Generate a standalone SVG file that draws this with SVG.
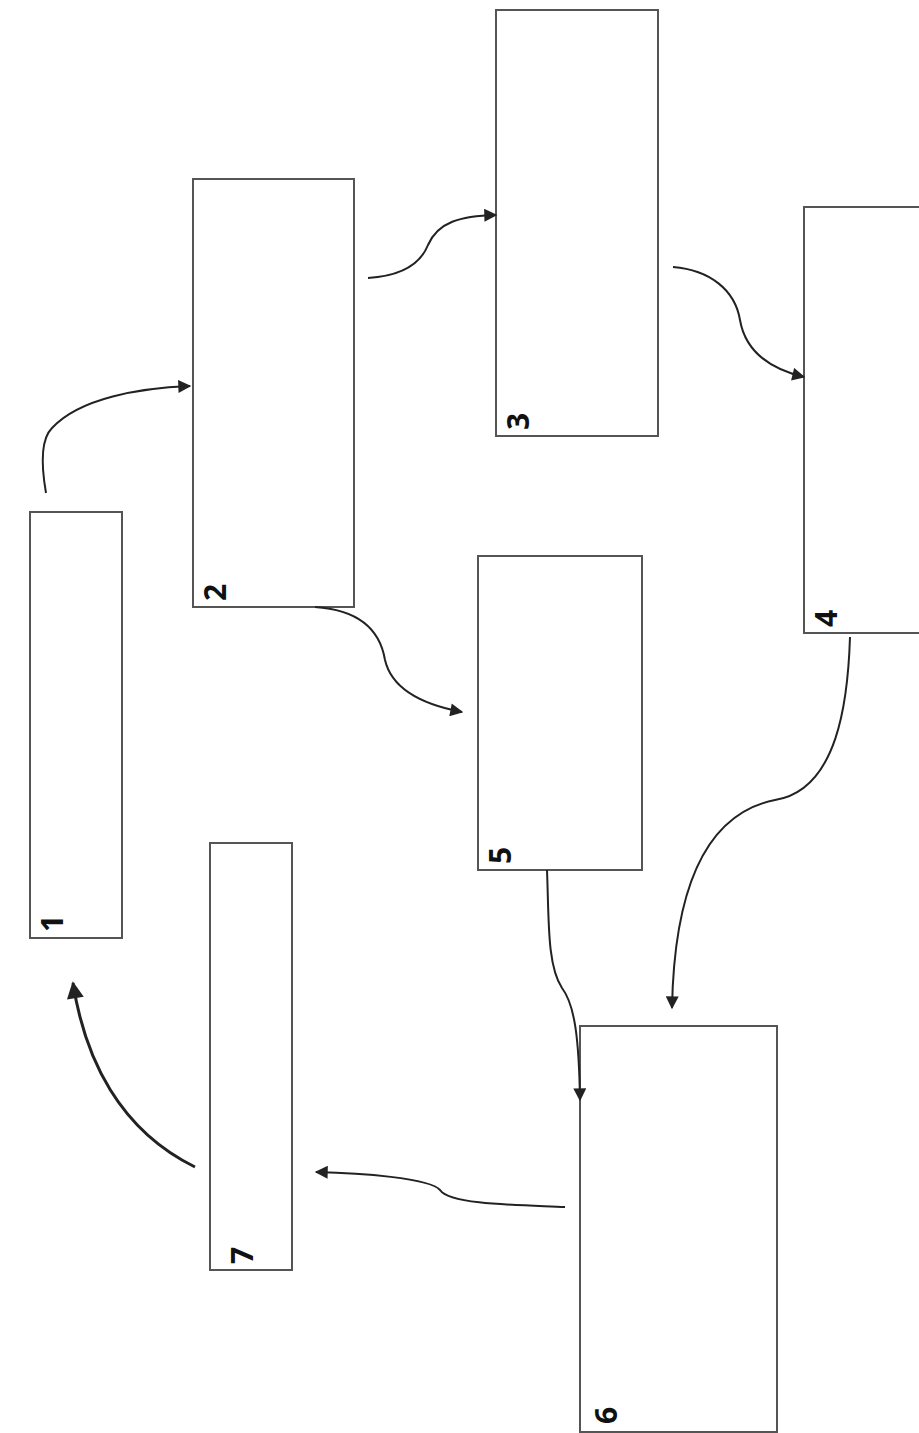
<svg xmlns="http://www.w3.org/2000/svg" width="919" height="1433" viewBox="0 0 919 1433">
<style>
.box{fill:#fff;stroke:#555;stroke-width:2}
.lbl{font-family:"Open Sans","DejaVu Sans",sans-serif;font-weight:bold;font-size:30px;fill:#111}
.c{fill:none;stroke:#222;stroke-width:2}
</style>
<defs>
<marker id="ah" viewBox="0 0 10 10" refX="9" refY="5" markerWidth="15" markerHeight="13" markerUnits="userSpaceOnUse" orient="auto">
<path d="M0,0 L10,5 L0,10 z" fill="#222"/>
</marker>
<marker id="ah2" viewBox="0 0 10 10" refX="9" refY="5" markerWidth="20" markerHeight="17" markerUnits="userSpaceOnUse" orient="auto">
<path d="M0,0 L10,5 L0,10 z" fill="#222"/>
</marker>
</defs>
<rect width="919" height="1433" fill="#fff"/>
<g id="node1"><rect class="box" x="30" y="512" width="92" height="426"/><text class="lbl" transform="translate(63,932) rotate(-90)">1</text></g>
<g id="node2"><rect class="box" x="193" y="179" width="161" height="428"/><text class="lbl" transform="translate(226,601) rotate(-90)">2</text></g>
<g id="node3"><rect class="box" x="496" y="10" width="162" height="426"/><text class="lbl" transform="translate(529,430) rotate(-90)">3</text></g>
<g id="node4"><rect class="box" x="804" y="207" width="118" height="426"/><text class="lbl" transform="translate(837,627) rotate(-90)">4</text></g>
<g id="node5"><rect class="box" x="478" y="556" width="164" height="314"/><text class="lbl" transform="translate(511,864) rotate(-90)">5</text></g>
<g id="node6"><rect class="box" x="580" y="1026" width="197" height="406"/><text class="lbl" transform="translate(617,1424) rotate(-90)">6</text></g>
<g id="node7"><rect class="box" x="210" y="843" width="82" height="427"/><text class="lbl" transform="translate(253,1264) rotate(-90)">7</text></g>
<g id="connectors">
<path class="c" marker-end="url(#ah)" d="M46,493 C42,470 40,440 52,428 C80,398 140,388 190,386"/>
<path class="c" marker-end="url(#ah)" d="M368,278 C400,276 420,265 428,245 C438,222 460,216 496,215"/>
<path class="c" marker-end="url(#ah)" d="M673,267 C710,270 735,290 740,320 C746,355 775,370 804,377"/>
<path class="c" marker-end="url(#ah)" d="M315,607 C360,610 380,630 385,660 C392,690 425,705 462,712"/>
<path class="c" marker-end="url(#ah)" d="M850,637 C848,700 838,790 775,800 C700,815 674,900 672,1008"/>
<path class="c" marker-end="url(#ah)" d="M547,870 C549,920 547,965 562,988 C575,1005 579,1040 580,1100"/>
<path class="c" marker-end="url(#ah)" d="M565,1207 C520,1205 450,1205 440,1190 C430,1178 360,1173 316,1172"/>
<path class="c" style="stroke-width:3" marker-end="url(#ah2)" d="M195,1167 C120,1130 85,1060 73,983"/>
</g>
</svg>
